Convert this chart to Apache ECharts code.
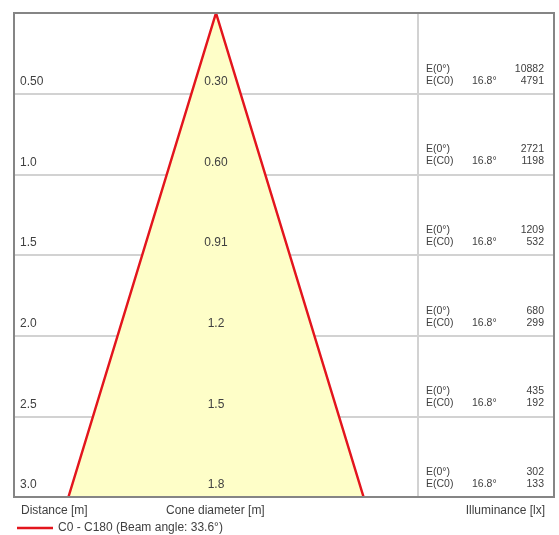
<!DOCTYPE html>
<html><head><meta charset="utf-8">
<script src="https://cdn.jsdelivr.net/npm/echarts@6/dist/echarts.min.js"></script>
<style>html,body{margin:0;padding:0;background:#fff}#c{width:559px;height:535px}</style>
</head><body><div id="c"></div>
<script>
const distances = [0.5, 1.0, 1.5, 2.0, 2.5, 3.0];
const distanceLabels = ["0.50", "1.0", "1.5", "2.0", "2.5", "3.0"];
const diameters = [0.30, 0.60, 0.91, 1.2, 1.5, 1.8];
const diameterLabels = ["0.30", "0.60", "0.91", "1.2", "1.5", "1.8"];
const e0Values = [10882, 2721, 1209, 680, 435, 302];
const ec0Values = [4791, 1198, 532, 299, 192, 133];
const halfAngleLabel = "16.8°";
const seriesName = "C0 - C180 (Beam angle: 33.6°)";

const FONT = '"Liberation Sans", Arial, sans-serif';
const TXT = '#404040';
const chart = echarts.init(document.getElementById('c'), null, {renderer: 'canvas'});

const lastD = distances[distances.length - 1];
const lastDia = diameters[diameters.length - 1];

const rows = distances.map((d, i) => [d, i]);

chart.setOption({
  animation: false,
  grid: [
    {left: 14, top: 13, width: 404, height: 484},
    {left: 418, top: 13, width: 136, height: 484}
  ],
  xAxis: [
    {gridIndex: 0, type: 'value', min: -1.232, max: 1.232, show: false},
    {gridIndex: 1, type: 'value', min: 0, max: 1, show: false}
  ],
  yAxis: [
    {gridIndex: 0, type: 'value', min: 0, max: 3, interval: 0.5, inverse: true,
     axisLabel: {show: false}, axisTick: {show: false}, axisLine: {show: false},
     splitLine: {show: true, lineStyle: {color: '#d2d2d2', width: 2}}},
    {gridIndex: 1, type: 'value', min: 0, max: 3, interval: 0.5, inverse: true,
     axisLabel: {show: false}, axisTick: {show: false},
     axisLine: {show: true, onZero: false, lineStyle: {color: '#d2d2d2', width: 2}},
     splitLine: {show: true, lineStyle: {color: '#d2d2d2', width: 2}}}
  ],
  legend: {
    left: 17, top: 522, itemWidth: 36, itemHeight: 12, itemGap: 6,
    icon: 'path://M0,0 L36,0 L36,2.5 L0,2.5 Z',
    textStyle: {fontFamily: FONT, fontSize: 12, color: TXT, padding: [0, 0, 0, 0]},
    padding: 0,
    data: [seriesName]
  },
  series: [
    {
      type: 'custom', xAxisIndex: 0, yAxisIndex: 0, z: 1,
      data: [[lastDia, lastD]],
      renderItem: function (params, api) {
        const half = api.value(0) / 2, d = api.value(1);
        const a = api.coord([0, 0]), l = api.coord([-half, d]), r = api.coord([half, d]);
        return {type: 'polygon', shape: {points: [a, l, r]}, style: {fill: '#fefec8', stroke: null}};
      }
    },
    {
      name: seriesName, type: 'line', xAxisIndex: 0, yAxisIndex: 0, z: 5,
      symbol: 'none', color: '#e3151d',
      lineStyle: {color: '#e3151d', width: 2.5},
      data: [[-lastDia / 2, lastD], [0, 0], [lastDia / 2, lastD]]
    },
    {
      type: 'custom', xAxisIndex: 0, yAxisIndex: 0, z: 6,
      data: rows,
      renderItem: function (params, api) {
        const d = api.value(0), i = api.value(1);
        const y = api.coord([0, d])[1];
        const cs = params.coordSys;
        return {type: 'group', children: [
          {type: 'text', x: cs.x + 6, y: y - 12, style: {text: distanceLabels[i], fill: TXT, font: '12px ' + FONT, textVerticalAlign: 'middle'}},
          {type: 'text', x: api.coord([0, d])[0], y: y - 12, style: {text: diameterLabels[i], fill: TXT, font: '12px ' + FONT, textAlign: 'center', textVerticalAlign: 'middle'}}
        ]};
      }
    },
    {
      type: 'custom', xAxisIndex: 1, yAxisIndex: 1, z: 6,
      data: rows,
      renderItem: function (params, api) {
        const d = api.value(0), i = api.value(1);
        const y = api.coord([0, d])[1];
        const cs = params.coordSys;
        const f = '10.5px ' + FONT;
        return {type: 'group', children: [
          {type: 'text', x: cs.x + 8, y: y - 25, style: {text: 'E(0°)', fill: TXT, font: f, textVerticalAlign: 'middle'}},
          {type: 'text', x: cs.x + 8, y: y - 13, style: {text: 'E(C0)', fill: TXT, font: f, textVerticalAlign: 'middle'}},
          {type: 'text', x: cs.x + 54, y: y - 13, style: {text: halfAngleLabel, fill: TXT, font: f, textVerticalAlign: 'middle'}},
          {type: 'text', x: cs.x + 126, y: y - 25, style: {text: String(e0Values[i]), fill: TXT, font: f, textAlign: 'right', textVerticalAlign: 'middle'}},
          {type: 'text', x: cs.x + 126, y: y - 13, style: {text: String(ec0Values[i]), fill: TXT, font: f, textAlign: 'right', textVerticalAlign: 'middle'}}
        ]};
      }
    }
  ],
  graphic: [
    {type: 'rect', z: 100, shape: {x: 14, y: 13, width: 540, height: 484}, style: {fill: null, stroke: '#858585', lineWidth: 2}},
    {type: 'text', left: 21, top: 505, style: {text: 'Distance [m]', fill: TXT, font: '12px ' + FONT}},
    {type: 'text', left: 166, top: 505, style: {text: 'Cone diameter [m]', fill: TXT, font: '12px ' + FONT}},
    {type: 'text', right: 14, top: 505, style: {text: 'Illuminance [lx]', fill: TXT, font: '12px ' + FONT}}
  ]
});
</script></body></html>
